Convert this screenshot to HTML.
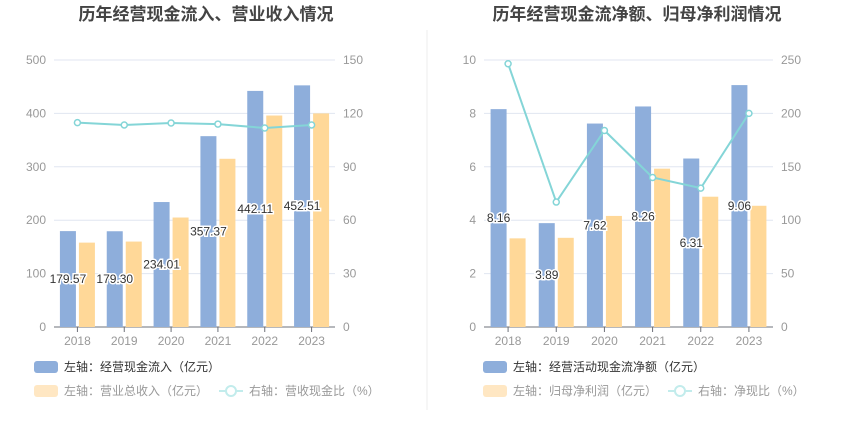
<!DOCTYPE html>
<html><head><meta charset="utf-8"><style>
html,body{margin:0;padding:0;background:#fff;}
body{width:850px;height:437px;overflow:hidden;font-family:"Liberation Sans","Noto Sans CJK SC",sans-serif;}
svg text{font-family:"Liberation Sans","Noto Sans CJK SC",sans-serif;}
</style></head><body>
<svg id="c" width="850" height="437" xmlns="http://www.w3.org/2000/svg">
<line x1="427" y1="30" x2="427" y2="410" stroke="#eee"/>
</svg>
<script>
const years=["2018","2019","2020","2021","2022","2023"];
const leftInflow=[179.57,179.30,234.01,357.37,442.11,452.51];
const leftRevenue=[158,160,205,315,396,400];
const leftRatio=[114.8,113.5,114.6,114,111.8,113.5];
const leftTicksL=[0,100,200,300,400,500];
const leftTicksR=[0,30,60,90,120,150];
const rightNetCash=[8.16,3.89,7.62,8.26,6.31,9.06];
const rightProfit=[3.32,3.34,4.16,5.93,4.88,4.54];
const rightRatio=[246.5,117,184,140,130,200];
const rightTicksL=[0,2,4,6,8,10];
const rightTicksR=[0,50,100,150,200,250];

const svg=document.getElementById('c');
const NS='http://www.w3.org/2000/svg';
function mk(tag,attrs,parent){const e=document.createElementNS(NS,tag);for(const k in attrs)e.setAttribute(k,attrs[k]);(parent||svg).appendChild(e);return e;}
function txt(x,y,s,attrs){const e=mk('text',Object.assign({x:x,y:y},attrs));e.textContent=s;return e;}

function chart(o){
  const g=mk('g',{});
  
  
  const t=txt(o.cx,20,o.title,{'text-anchor':'middle','font-size':'17','font-weight':'bold',fill:'#444'});
  
  
  const x0=o.x0,x1=o.x1,top=60,bot=327,h=bot-top;
  const maxL=o.ticksL[o.ticksL.length-1],maxR=o.ticksR[o.ticksR.length-1];
  const yL=v=>bot-v/maxL*h, yR=v=>bot-v/maxR*h;
  const cw=(x1-x0)/years.length, xc=i=>x0+cw*(i+0.5);
  o.ticksL.forEach((v,i)=>{
    if(v>0){const gl=mk('line',{x1:x0,x2:x1,y1:yL(v),y2:yL(v),stroke:'#e0e6f1'},g);
    }
    const a=txt(x0-8,yL(v)+4,String(v),{'text-anchor':'end','font-size':'12',fill:'#999'},g);
    
    const b=txt(x1+8,yR(o.ticksR[i])+4,String(o.ticksR[i]),{'text-anchor':'start','font-size':'12',fill:'#999'});
    
  });
  const ax=mk('line',{x1:x0,x2:x1,y1:bot,y2:bot,stroke:'#6e7079'});
  
  years.forEach((y,i)=>{
    mk('line',{x1:xc(i),x2:xc(i),y1:bot,y2:bot+5,stroke:'#6e7079'});
    const l=txt(xc(i),bot+18,y,{'text-anchor':'middle','font-size':'12',fill:'#999'});
    
    const b=mk('rect',{x:xc(i)-17.5,y:yL(o.blue[i]),width:16,height:bot-yL(o.blue[i]),fill:'#8eaedb'});
    
    const r=mk('rect',{x:xc(i)+1.5,y:yL(o.yellow[i]),width:16,height:bot-yL(o.yellow[i]),fill:'#ffd898'});
    
  });
  years.forEach((y,i)=>{
    const ly=(yL(o.blue[i])+bot)/2+4;
    const l=txt(xc(i)-9.5,ly,o.blue[i].toFixed(2),{'text-anchor':'middle','font-size':'12',fill:'#333',stroke:'#fff','stroke-width':'3','paint-order':'stroke'});
    
  });
  const pts=o.ratio.map((v,i)=>xc(i)+','+yR(v)).join(' ');
  const pl=mk('polyline',{points:pts,fill:'none',stroke:'#84d5d7','stroke-width':'2'});
  
  o.ratio.forEach((v,i)=>{
    const c=mk('circle',{cx:xc(i),cy:yR(v),r:3,fill:'#fff',stroke:'#84d5d7','stroke-width':'1.5'});
    
  });
  // legend
  const lx=o.legX;
  const s1=mk('rect',{x:lx,y:361,width:24,height:12,rx:3,fill:'#8eaedb'});
  
  const t1=txt(lx+30,371,o.leg1,{'font-size':'12',fill:'#333'});
  
  const s2=mk('rect',{x:lx,y:385,width:24,height:12,rx:3,fill:'#ffe7c3'});
  
  const t2=txt(lx+30,395,o.leg2,{'font-size':'12',fill:'#999'});
  
  mk('line',{x1:o.leg3X,x2:o.leg3X+24,y1:391,y2:391,stroke:'#c2ecec','stroke-width':'2'});
  const lc=mk('circle',{cx:o.leg3X+12,cy:391,r:5,fill:'#fff',stroke:'#c2ecec','stroke-width':'2'});
  
  const t3=txt(o.leg3X+30,395,o.leg3,{'font-size':'12',fill:'#999'});
  
}
chart({name:'left-chart',title:'历年经营现金流入、营业收入情况',cx:206,x0:54,x1:335,ticksL:leftTicksL,ticksR:leftTicksR,blue:leftInflow,yellow:leftRevenue,ratio:leftRatio,legX:34,leg1:'左轴：经营现金流入（亿元）',leg2:'左轴：营业总收入（亿元）',leg3X:219,leg3:'右轴：营收现金比（%）'});
chart({name:'right-chart',title:'历年经营现金流净额、归母净利润情况',cx:637,x0:484,x1:773,ticksL:rightTicksL,ticksR:rightTicksR,blue:rightNetCash,yellow:rightProfit,ratio:rightRatio,legX:483,leg1:'左轴：经营活动现金流净额（亿元）',leg2:'左轴：归母净利润（亿元）',leg3X:668,leg3:'右轴：净现比（%）'});
</script>
</body></html>
